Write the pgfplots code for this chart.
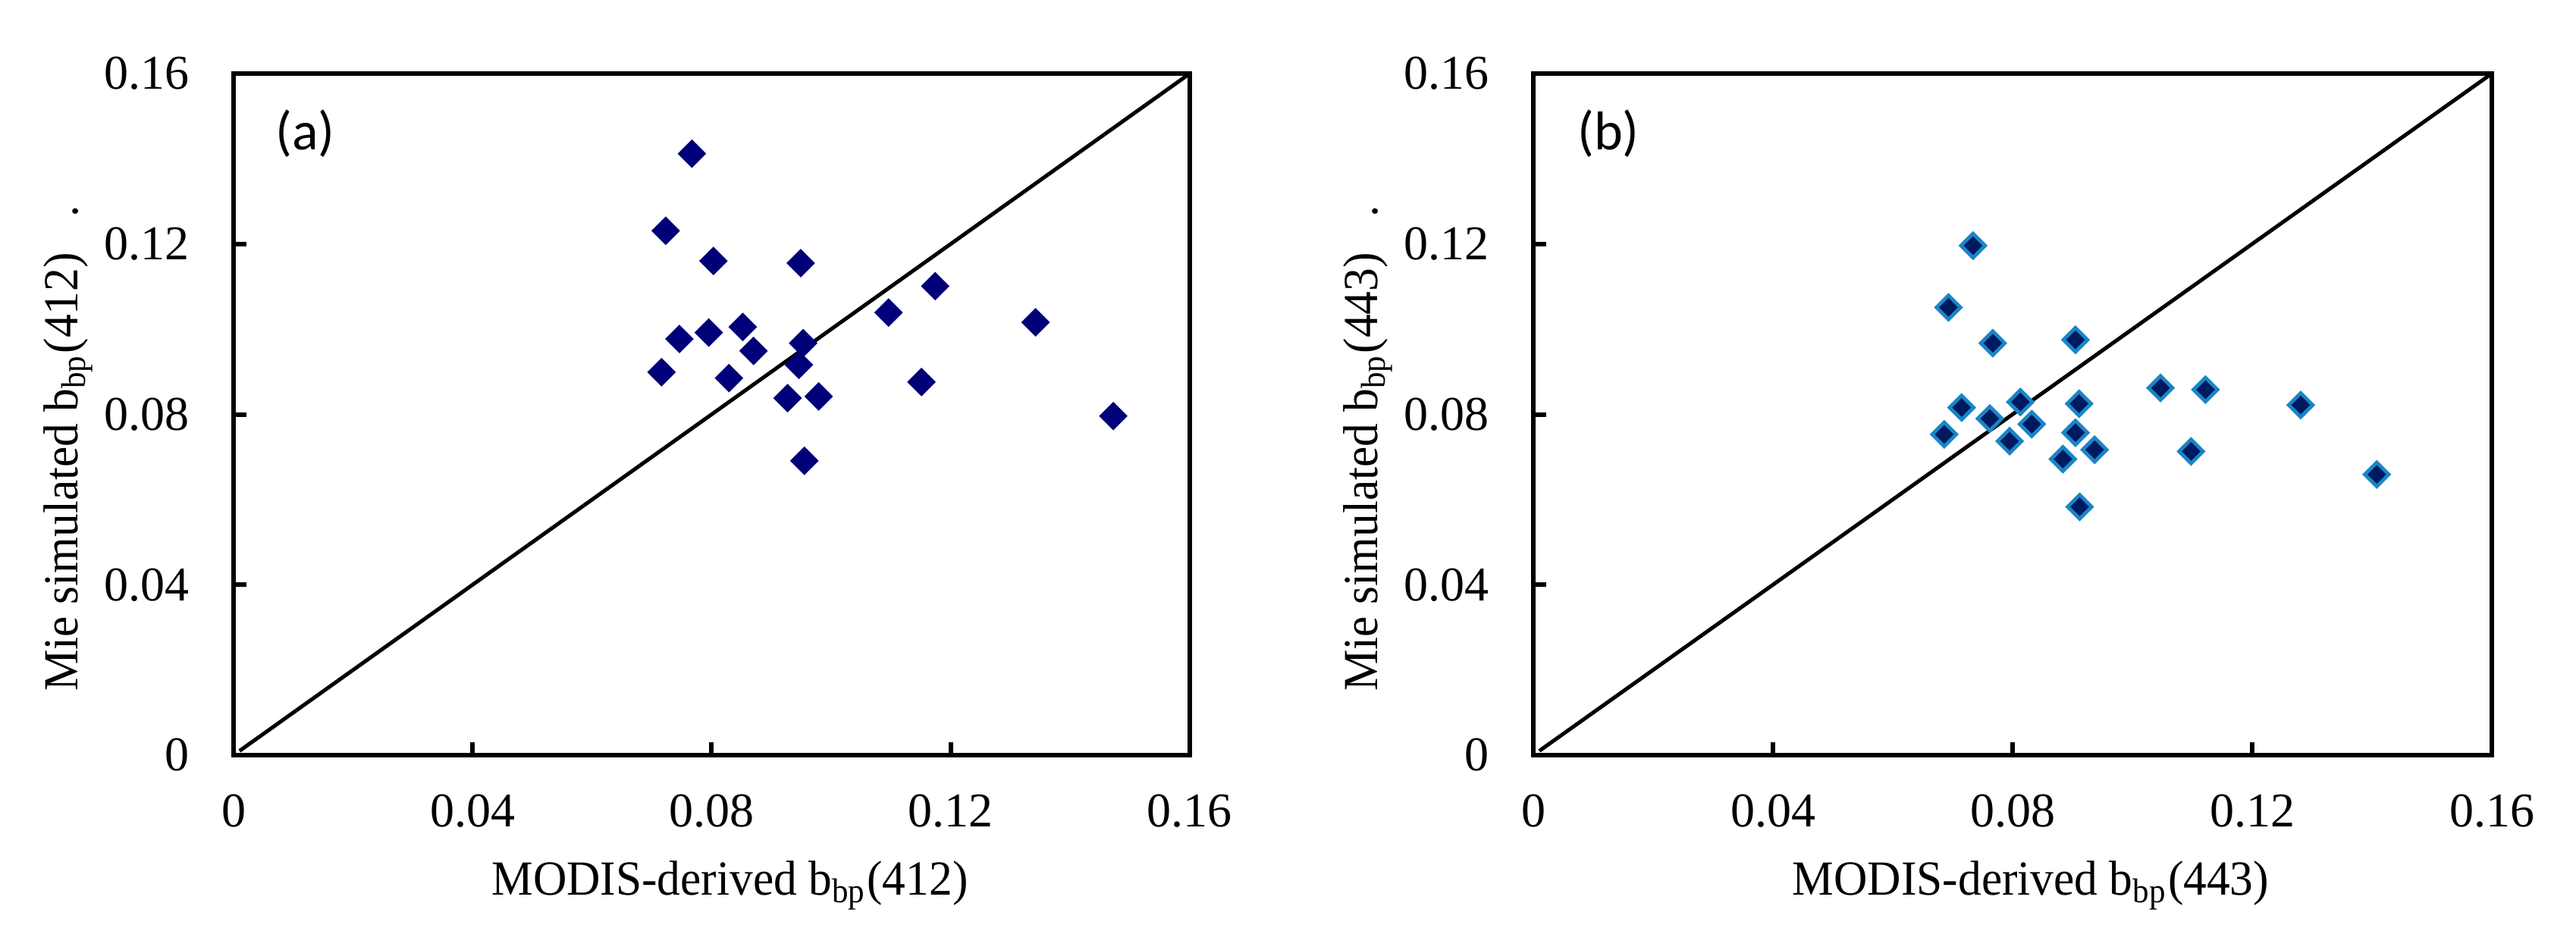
\documentclass[border=0pt]{standalone}
\usepackage{fontspec}
\setmainfont{Liberation Serif}
\newfontfamily\labelfont{Liberation Serif}[FakeStretch=0.95]
\newfontfamily\calibri{Carlito}
\usepackage{pgfplots}
\pgfplotsset{compat=1.18}

\definecolor{navyA}{RGB}{0,0,120}
\definecolor{navyB}{RGB}{0,26,96}
\definecolor{edgeB}{RGB}{26,133,198}

\pgfplotsset{
 myaxis/.style={
  scale only axis, height=134.85pt,
  xmin=0,xmax=0.16,ymin=0,ymax=0.16,
  xtick={0,0.04,0.08,0.12,0.16}, ytick={0,0.04,0.08,0.12,0.16},
  xticklabels={0,0.04,0.08,0.12,0.16}, yticklabels={0,0.04,0.08,0.12,0.16},
  scaled ticks=false,
  tick align=inside, xtick pos=bottom, ytick pos=left,
  major tick length=2.6pt,
  axis line style={line width=0.9pt},
  major tick style={line width=0.9pt,black},
  ticklabel style={font=\fontsize{9.6}{11}\selectfont},
  xticklabel style={yshift=-4.3pt},
  yticklabel style={xshift=-5.2pt},
  label style={font=\labelfont\fontsize{9.7}{11}\selectfont},
  xlabel style={at={(axis description cs:0.519,-0.2047)}, anchor=base},
  ylabel style={at={(axis description cs:-0.1626,0.45)}, anchor=base},
 }
}

\begin{document}
\begin{tikzpicture}
\useasboundingbox (0,0) rectangle (509.55pt,187.8pt);
\begin{axis}[myaxis, width=189.15pt, at={(46.2pt,38.4pt)}, anchor=south west,
  xlabel={MODIS-derived b\textsubscript{bp}(412)},
  ylabel={Mie simulated b\textsubscript{bp}(412)\hspace{7pt}.}]
\addplot[black, line width=0.75pt] coordinates {(0.001,0.001) (0.16,0.16)};
\addplot[only marks, mark=square*, mark size=1.9pt,
  mark options={rotate=45, fill=navyA, draw=navyA, line width=0.2pt}] coordinates {
(0.0767,0.1412) (0.0723,0.1231) (0.0803,0.1160) (0.0949,0.1155) (0.1174,0.1101)
(0.1096,0.1039) (0.1342,0.1016) (0.0852,0.1005) (0.0795,0.0992) (0.0746,0.0977)
(0.0953,0.0967) (0.0870,0.0949) (0.0946,0.0916) (0.0716,0.0899) (0.0829,0.0885)
(0.1151,0.0876) (0.0927,0.0838) (0.0979,0.0842) (0.1472,0.0796) (0.0955,0.0691)};
\node[anchor=west, inner sep=0pt, font=\calibri\fontsize{10.8}{12}\selectfont]
  at (axis description cs:0.0428,0.912) {(a)};
\end{axis}
\begin{axis}[myaxis, width=189.6pt, at={(303.3pt,38.4pt)}, anchor=south west,
  xlabel={MODIS-derived b\textsubscript{bp}(443)},
  ylabel={Mie simulated b\textsubscript{bp}(443)\hspace{7pt}.}]
\addplot[black, line width=0.75pt] coordinates {(0.001,0.001) (0.16,0.16)};
\addplot[only marks, mark=square*, mark size=1.68pt,
  mark options={rotate=45, fill=navyB, draw=edgeB, line width=0.7pt}] coordinates {
(0.0734,0.1196) (0.0693,0.1051) (0.0767,0.0967) (0.0905,0.0975) (0.1047,0.0862)
(0.1122,0.0858) (0.1281,0.0822) (0.0911,0.0825) (0.0813,0.0829) (0.0715,0.0816)
(0.0762,0.0790) (0.0832,0.0777) (0.0905,0.0757) (0.0686,0.0753) (0.0795,0.0737)
(0.0937,0.0717) (0.1098,0.0713) (0.0884,0.0695) (0.1408,0.0659) (0.0912,0.0583)};
\node[anchor=west, inner sep=0pt, font=\calibri\fontsize{10.8}{12}\selectfont]
  at (axis description cs:0.045,0.912) {(b)};
\end{axis}
\end{tikzpicture}
\end{document}
